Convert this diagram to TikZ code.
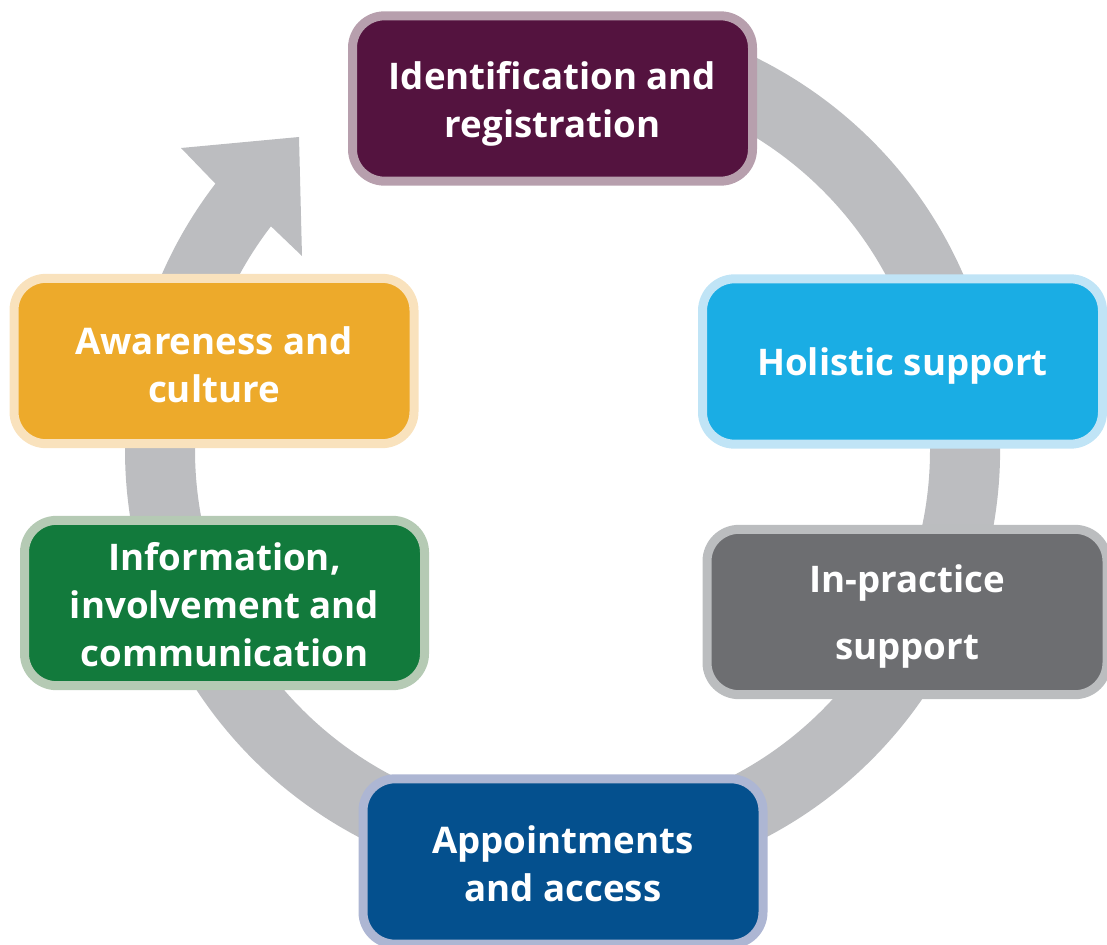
\documentclass[tikz,border=0pt]{standalone}
\usepackage{fontspec}
\setmainfont{Open Sans}
\definecolor{ringgrey}{HTML}{BCBDC0}
\definecolor{idfill}{HTML}{54133F}
\definecolor{idline}{HTML}{B79FAD}
\definecolor{holfill}{HTML}{1AADE4}
\definecolor{holline}{HTML}{C0E4F6}
\definecolor{ipfill}{HTML}{6D6E71}
\definecolor{ipline}{HTML}{BBBDBF}
\definecolor{apfill}{HTML}{04508E}
\definecolor{apline}{HTML}{ADB6D3}
\definecolor{infill}{HTML}{127A3C}
\definecolor{inline}{HTML}{B5CAB4}
\definecolor{awfill}{HTML}{EDAA2B}
\definecolor{awline}{HTML}{F9E2BD}
\tikzset{
  stagebox/.style={draw=#1line, fill=#1fill, line width=6.75pt, rounded corners=24pt,
    minimum width=300pt, minimum height=124pt, inner sep=0pt},
  stagetext/.style={inner sep=0pt, align=center, text=white,
    font=\fontsize{27.5}{36}\selectfont\bfseries}
}
\begin{document}
\begin{tikzpicture}[x=0.75pt, y=-0.75pt]
\useasboundingbox (0,0) rectangle (1107,945);
% ring arrow
\begin{scope}[shift={(562.5,450)}, yscale=-1]
\fill[ringgrey] (105:437.5) arc[start angle=105, end angle=-217.5, radius=437.5]
  -- (-381.5,302) -- (-263.5,313) -- (-260.5,194)
  -- (-217.5:367.5) arc[start angle=-217.5, end angle=105, radius=367.5] -- cycle;
\end{scope}
% stages
\node[stagebox=id] (id) at (552.5,98.5) {};
\node[stagebox=hol] (hol) at (902.5,361.5) {};
\node[stagebox=ip] (ip) at (907,612) {};
\node[stagebox=ap] (ap) at (563,861.5) {};
\node[stagebox=in] (inf) at (224.5,603) {};
\node[stagebox=aw] (aw) at (214,361) {};
% labels
\node[stagetext] (idt) at ([yshift=-3.75pt]id.center) {Identification and\\registration};
\node[stagetext] (holt) at ([yshift=-3.5pt]hol.center) {Holistic support};
\node[stagetext, font=\fontsize{27.5}{50}\selectfont\bfseries] (ipt) at ([yshift=-3.5pt]ip.center) {In-practice\\support};
\node[stagetext] (apt) at ([yshift=-1.75pt]ap.center) {Appointments\\and access};
\node[stagetext] (inft) at ([yshift=-1.25pt]inf.center) {Information,\\involvement and\\communication};
\node[stagetext] (awt) at ([yshift=-2.5pt]aw.center) {Awareness and\\culture};
\end{tikzpicture}
\end{document}
